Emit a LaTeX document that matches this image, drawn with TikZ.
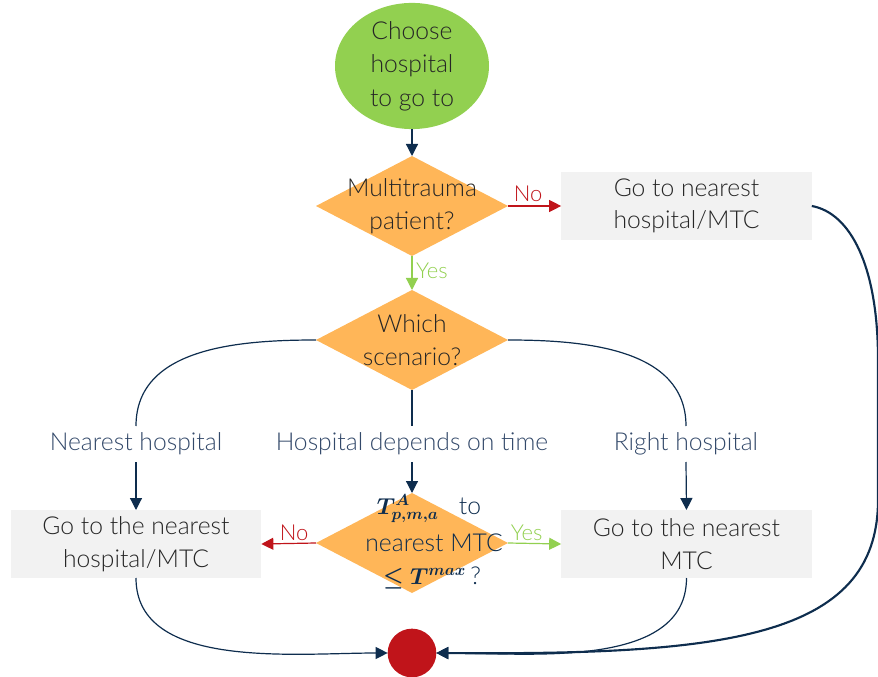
\documentclass[tikz,border=0pt]{standalone}
\usepackage{fontspec}
\usepackage{amsmath,bm}
\setmainfont{Lato}[UprightFont={* Light}, BoldFont={*}]
\usetikzlibrary{shapes.geometric,arrows.meta}
\definecolor{startgreen}{HTML}{92D050}
\definecolor{decorange}{HTML}{FFB658}
\definecolor{navy}{HTML}{0E2D4E}
\definecolor{stopred}{HTML}{C0141A}
\definecolor{boxgrey}{HTML}{F2F2F2}
\definecolor{txtdark}{HTML}{262626}
\definecolor{lblblue}{HTML}{33496A}
\definecolor{yesgreen}{HTML}{92D050}
\tikzset{
  base/.style={inner sep=0pt, outer sep=0pt, align=center, font=\fontsize{18.5}{24.5}\selectfont},
  startnode/.style={base, ellipse, fill=startgreen, text=txtdark, minimum width=115.5pt, minimum height=78pt,
    font=\fontsize{18.5}{25}\selectfont},
  decision/.style={base, diamond, fill=decorange, minimum width=144pt, minimum height=75pt, aspect=1.92},
  dectext/.style={base, text=txtdark},
  mathline/.style={base, text=navy, anchor=base},
  actionbox/.style={base, rectangle, fill=boxgrey, text=txtdark, minimum width=188pt, minimum height=51pt},
  stopnode/.style={base, ellipse, fill=stopred, minimum width=36.5pt, minimum height=36.5pt},
  branchlbl/.style={base, text=lblblue, minimum height=27pt},
  flow/.style={draw=navy, line width=0.9pt},
  flowarrow/.style={flow, -{Triangle[length=9pt,width=9pt]}},
  noarrow/.style={draw=stopred, line width=0.9pt, -{Triangle[length=9pt,width=9pt]}},
  yesarrow/.style={draw=yesgreen, line width=0.9pt, -{Triangle[length=9pt,width=9pt]}},
  nolbl/.style={base, text=stopred, font=\fontsize{16.5}{18}\selectfont},
  yeslbl/.style={base, text=yesgreen, font=\fontsize{16.5}{18}\selectfont},
}
\newcommand{\bigmath}[1]{{\fontsize{18.5}{20}\selectfont$\bm{#1}$}}
\begin{document}
\begin{tikzpicture}[x=0.75pt, y=-0.75pt]
  \useasboundingbox (0,0) rectangle (878,677);

  % nodes
  \node[startnode] (start) at (412,66) {Choose\\hospital\\to go to};
  \node[decision] (multi) at (412,206) {};
  \node[dectext] (multitxt) at (412,206) {Multitrauma\\patient?};
  \node[actionbox] (gonear) at (686.5,206) {Go to nearest\\hospital/MTC};
  \node[decision] (scen) at (412,340) {};
  \node[dectext] (scentxt) at (412,340) {Which\\scenario?};
  \node[branchlbl] (lnear) at (136,444) {Nearest hospital};
  \node[branchlbl] (ltime) at (412,444) {Hospital depends on time};
  \node[branchlbl] (lright) at (686,444) {Right hospital};
  \node[actionbox] (boxleft) at (136,544) {Go to the nearest\\hospital/MTC};
  \node[decision] (timechk) at (412,543) {};
  \node[mathline] (tline1) at (429,514) {\bigmath{T^{A}_{p,m,a}}\ \ \ to};
  \node[mathline] (tline2) at (434,551) {nearest\ MTC};
  \node[mathline] (tline3) at (432,584) {\bigmath{\le T^{max}}\,?};
  \node[actionbox] (boxright) at (686.5,544) {Go to the nearest\\MTC};
  \node[stopnode] (stop) at (412,653) {};

  % main flow
  \draw[flowarrow] (start.south) -- (multi.north);
  \draw[noarrow] (multi.east) -- node[nolbl, above=3pt, pos=0.38] {No} (gonear.west);
  \draw[yesarrow] (multi.south) -- node[yeslbl, right=3pt, pos=0.45] {Yes} (scen.north);

  % scenario branches
  \draw[flow] (scen.west) to[out=180, in=90] (lnear.north);
  \draw[flowarrow] (lnear.south) -- (boxleft.north);
  \draw[flow] (scen.south) -- (ltime.north);
  \draw[flowarrow] (ltime.south) -- (timechk.north);
  \draw[flow] (scen.east) to[out=0, in=90] (lright.north);
  \draw[flowarrow] (lright.south) -- (boxright.north);

  % time check outcomes
  \draw[noarrow] (timechk.west) -- node[nolbl, above=2pt, pos=0.4] {No} (boxleft.east);
  \draw[yesarrow] (timechk.east) -- node[yeslbl, above=2pt, pos=0.35] {Yes} (boxright.west);

  % into the end point
  \draw[flowarrow] (boxleft.south) to[out=-90, in=180, looseness=0.9] (stop.west);
  \draw[flowarrow] (boxright.south) to[out=-90, in=0, looseness=0.9] (stop.east);
  \draw[draw=navy, line width=1.6pt, -{Triangle[length=9pt,width=9pt]}]
    (gonear.east) .. controls (850,213) and (878,265) .. (878,360)
    -- (878,500) .. controls (878,640) and (720,655) .. (stop.east);
\end{tikzpicture}
\end{document}
